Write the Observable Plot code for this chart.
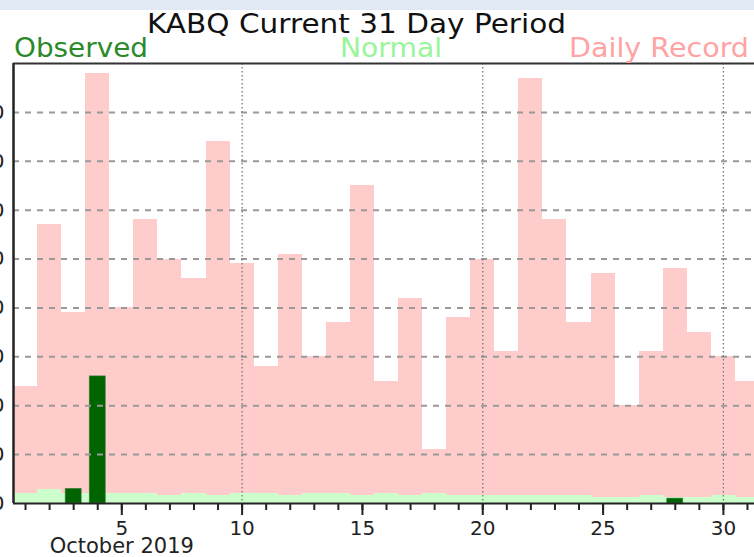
<!DOCTYPE html>
<html><head><meta charset="utf-8">
<script src="https://cdn.jsdelivr.net/npm/d3@7"></script>
<script src="https://cdn.jsdelivr.net/npm/@observablehq/plot@0.6"></script>
<style>
html,body{margin:0;padding:0;background:#fff;}
#wrap{position:relative;width:754px;height:557px;overflow:hidden;font-family:"DejaVu Sans",sans-serif;}
#chart{position:absolute;left:0;top:0;}
#band{position:absolute;left:0;top:0;width:754px;height:10px;background:#e1e9f4;}
#head{position:absolute;left:0;top:0;z-index:2;overflow:visible;}
</style></head><body>
<div id="wrap"><div id="chart"></div><div id="band"></div><svg id="head" width="754" height="70"></svg></div>
<script>
const days = d3.range(1, 32);
const record = [0.24,0.57,0.39,0.88,0.40,0.58,0.50,0.46,0.74,0.49,0.28,0.51,0.30,0.37,0.65,0.25,0.42,0.11,0.38,0.50,0.31,0.87,0.58,0.37,0.47,0.20,0.31,0.48,0.35,0.30,0.25];
const normal = [0.021,0.029,0.021,0.021,0.021,0.021,0.016,0.021,0.016,0.021,0.021,0.016,0.021,0.021,0.016,0.021,0.016,0.021,0.016,0.016,0.016,0.016,0.016,0.016,0.012,0.012,0.016,0.012,0.012,0.016,0.012];
const observed = [0,0,0.03,0.26,0,0,0,0,0,0,0,0,0,0,0,0,0,0,0,0,0,0,0,0,0,0,0,0.01,0,0,0];
const yGrid = [0.1,0.2,0.3,0.4,0.5,0.6,0.7,0.8];
const yLabels = [0,0.1,0.2,0.3,0.4,0.5,0.6,0.7,0.8];
const vGrid = [10,20,30];
const majorTicks = [5,10,15,20,25,30];
const title = "KABQ Current 31 Day Period";
const legendNames = ["Observed","Normal","Daily Record"];
const legendColors = ["#2a8a2a","#99f599","#ffa3a3"];
const monthLabel = [{day: 5, text: "October 2019"}];

const rows = days.map((d, i) => ({day: d, record: record[i], normal: normal[i], observed: observed[i]}));

const plot = Plot.plot({
  width: 800, height: 557,
  marginLeft: 13, marginRight: 41, marginTop: 63, marginBottom: 54,
  x: {domain: [0.5, 31.5]},
  y: {domain: [0, 0.9]},
  style: {fontFamily: "DejaVu Sans", background: "transparent", overflow: "visible", color: "#222"},
  marks: [
    Plot.rectY(rows, {x1: d => d.day - 0.5, x2: d => d.day + 0.5, y1: 0, y2: "record", fill: "#ffcccc", shapeRendering: "crispEdges"}),
    Plot.rectY(rows, {x1: d => d.day - 0.5, x2: d => d.day + 0.5, y1: 0, y2: "normal", fill: "#ccffcc", shapeRendering: "crispEdges"}),
    Plot.rectY(rows.filter(d => d.observed > 0), {x1: d => d.day - 1/3, x2: d => d.day + 1/3, y1: 0, y2: "observed", fill: "#006400", stroke: "#4a804a", strokeWidth: 0.6}),
    Plot.ruleY(yGrid, {stroke: "#999", strokeWidth: 2, strokeDasharray: "6,6"}),
    Plot.ruleX(vGrid, {stroke: "#777", strokeWidth: 1.3, strokeDasharray: "1.5,2.5"}),
    Plot.ruleX([0.5], {stroke: "#222", strokeWidth: 2.5}),
    Plot.ruleY([0.9], {stroke: "#333", strokeWidth: 2}),
    Plot.ruleY([0], {stroke: "#222", strokeWidth: 2}),
    Plot.axisY(yLabels, {tickSize: 0, tickPadding: 9, fontSize: 20, tickFormat: d => d.toFixed(2), label: null}),
    Plot.axisX(days, {tickSize: 7, tickFormat: () => "", label: null, strokeWidth: 2}),
    Plot.axisX(majorTicks, {tickSize: 12, tickPadding: 5, fontSize: 20, label: null, strokeWidth: 2}),
    Plot.text(monthLabel, {x: "day", text: "text", frameAnchor: "bottom", lineAnchor: "top", dy: 35, fontSize: 21, fill: "#222"})
  ]
});
plot.style.maxWidth = "none";
document.getElementById("chart").appendChild(plot);

const head = d3.select("#head");
head.append("text").attr("x", 147).attr("y", 33).attr("font-size", 26).attr("fill", "#111")
  .attr("font-family", "DejaVu Sans").attr("textLength", 419).attr("lengthAdjust", "spacingAndGlyphs").text(title);
const legendPos = [{x: 14, w: 134}, {x: 340, w: 102}, {x: 569, w: 180}];
legendNames.forEach((n, i) => {
  head.append("text").attr("x", legendPos[i].x).attr("y", 57).attr("font-size", 26)
    .attr("font-family", "DejaVu Sans").attr("fill", legendColors[i])
    .attr("textLength", legendPos[i].w).attr("lengthAdjust", "spacingAndGlyphs").text(n);
});
</script>
</body></html>
